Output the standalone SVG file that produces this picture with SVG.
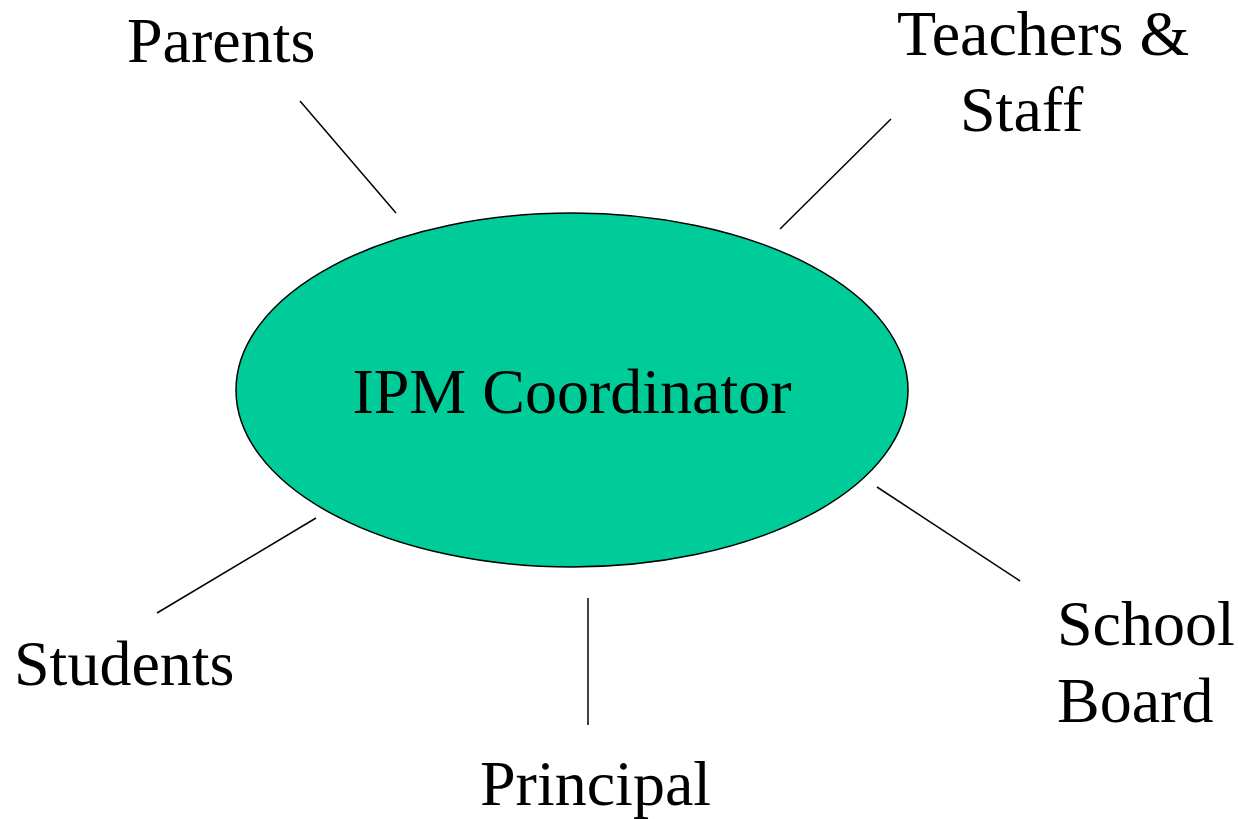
<svg xmlns="http://www.w3.org/2000/svg" width="1238" height="819" viewBox="0 0 1238 819">
<style>
text{font-family:"Liberation Serif","Times New Roman",serif;font-size:64px;fill:#000}
.c{stroke:#000;stroke-width:1.5;fill:none}
</style>
<rect width="1238" height="819" fill="#fff"/>
<g id="connectors">
<line class="c" x1="300" y1="101" x2="396" y2="213"/>
<line class="c" x1="891" y1="119" x2="780" y2="229"/>
<line class="c" x1="877" y1="487" x2="1020" y2="581"/>
<line class="c" x1="588" y1="598" x2="588" y2="725"/>
<line class="c" x1="157" y1="613" x2="316" y2="518"/>
</g>
<g id="coordinator">
<ellipse cx="572" cy="390" rx="336" ry="177" fill="#00CC99" stroke="#000" stroke-width="1.5"/>
<text x="572" y="413" text-anchor="middle">IPM Coordinator</text>
</g>
<g id="parents"><text x="127" y="62">Parents</text></g>
<g id="teachers"><text x="897" y="55">Teachers &amp;</text><text x="960" y="131">Staff</text></g>
<g id="schoolboard"><text x="1057" y="645">School</text><text x="1057" y="722">Board</text></g>
<g id="principal"><text x="480" y="805">Principal</text></g>
<g id="students"><text x="14" y="685">Students</text></g>
</svg>
